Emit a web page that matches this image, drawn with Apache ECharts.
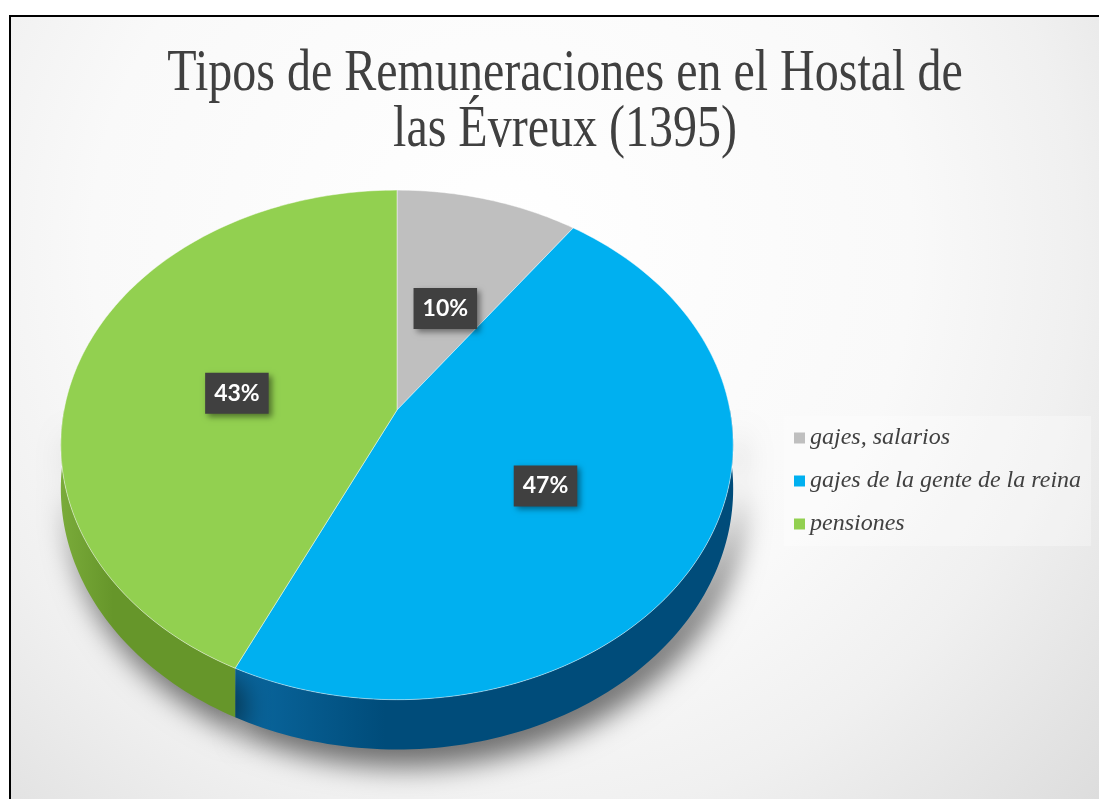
<!DOCTYPE html>
<html>
<head>
<meta charset="utf-8">
<title>Tipos de Remuneraciones</title>
<script src="https://cdn.jsdelivr.net/npm/echarts@6/dist/echarts.min.js"></script>
<style>
html, body { margin: 0; padding: 0; background: #fff; overflow: hidden; }
#main { width: 1099px; height: 799px; }
</style>
</head>
<body>
<div id="main"></div>
<script>
/* datos */
var titulo = ['Tipos de Remuneraciones en el Hostal de', 'las Évreux (1395)'];
var categorias = ['gajes, salarios', 'gajes de la gente de la reina', 'pensiones'];
var valores = [10, 47, 43];
var colores = ['#bfbfbf', '#00b0f0', '#92d050'];
var coloresLado = [['#9a9a9a', '#7c7c7c'], ['#0a68a0', '#004c7a'], ['#7aab3a', '#66962a']];

var total = valores.reduce(function (a, b) { return a + b; }, 0);
var inicio = [];
var acum = 0;
valores.forEach(function (v) { inicio.push(acum); acum += v; });

/* geometria del pastel 3D (perspectiva simple) */
var CX = 397, CY = 410, RX = 333, RY = 250, K = 0.137, PROF = 43;

function punto(r, ang, dz) {
	var w = 1 + K * r * Math.cos(ang);
	return [CX + RX * r * Math.sin(ang) / w, CY + (-RY * r * Math.cos(ang) + (dz || 0)) / w];
}
function arco(a, b, dz) {
	var n = Math.max(2, Math.ceil((b - a) / 0.02));
	var pts = [];
	for (var i = 0; i <= n; i++) pts.push(punto(1, a + (b - a) * i / n, dz));
	return pts;
}

function renderSector(i) {
	return function (params, api) {
		var a = inicio[i] / total * Math.PI * 2;
		var b = (inicio[i] + valores[i]) / total * Math.PI * 2;
		var hijos = [];
		// lado visible (mitad delantera)
		var a2 = Math.max(a, Math.PI / 2), b2 = Math.min(b, Math.PI * 1.5);
		if (b2 > a2) {
			var sup = arco(a2, b2, 0);
			var inf = arco(a2, b2, PROF).reverse();
			hijos.push({
				type: 'polygon',
				z2: 1,
				shape: { points: sup.concat(inf) },
				style: {
					fill: new echarts.graphic.LinearGradient(0, 0, 1, 0, [
						{ offset: 0, color: coloresLado[i][0] },
						{ offset: 0.3, color: coloresLado[i][1] },
						{ offset: 1, color: coloresLado[i][1] }
					]),
					shadowBlur: 28,
					shadowColor: 'rgba(0,0,0,0.55)',
					shadowOffsetX: 8,
					shadowOffsetY: 18
				}
			});
		}
		// cara superior
		hijos.push({
			type: 'polygon',
			z2: 10,
			shape: { points: [punto(0, 0, 0)].concat(arco(a, b, 0)) },
			style: { fill: colores[i], stroke: 'rgba(255,255,255,0.45)', lineWidth: 1 }
		});
		// etiqueta
		var m = (a + b) / 2;
		var pl = punto(0.5, m, 0);
		hijos.push({
			type: 'text',
			z2: 20,
			x: pl[0],
			y: pl[1] + 10,
			style: {
				text: Math.round(valores[i] / total * 100) + '%',
				font: 'bold 23px Lato',
				fill: '#fff',
				align: 'center',
				verticalAlign: 'middle',
				backgroundColor: '#404040',
				padding: [10, 9, 8, 9],
				shadowBlur: 6,
				shadowColor: 'rgba(0,0,0,0.45)',
				shadowOffsetX: 3,
				shadowOffsetY: 3
			}
		});
		return { type: 'group', children: hijos };
	};
}

var series = categorias.map(function (c, i) {
	return {
		type: 'custom',
		name: c,
		coordinateSystem: 'none',
		itemStyle: { color: colores[i] },
		renderItem: renderSector(i),
		data: [valores[i]]
	};
});

var Chart = echarts.init(document.getElementById('main'));
var option = {
	backgroundColor: '#fff',
	animation: false,
	graphic: [{
		type: 'rect',
		z: -10,
		silent: true,
		shape: { x: 10, y: 16, width: 1200, height: 900 },
		style: {
			fill: new echarts.graphic.RadialGradient(0.41, 0.26, 0.91, [
				{ offset: 0, color: '#ffffff' },
				{ offset: 0.5, color: '#f9f9f9' },
				{ offset: 0.7, color: '#f0f0f0' },
				{ offset: 0.85, color: '#e6e6e6' },
				{ offset: 1, color: '#dcdcdc' }
			]),
			stroke: '#000',
			lineWidth: 2
		}
	}, {
		type: 'text',
		z: 5,
		x: 565,
		y: 46,
		scaleX: 0.8,
		silent: true,
		style: {
			text: titulo.join('\n'),
			font: '60px "Liberation Serif"',
			fill: '#404040',
			align: 'center',
			verticalAlign: 'top',
			lineHeight: 56
		}
	}],
	legend: {
		orient: 'vertical',
		left: 784,
		top: 416,
		icon: 'rect',
		itemWidth: 11,
		itemHeight: 11,
		itemGap: 19,
		padding: [10, 10, 10, 10],
		backgroundColor: 'rgba(255,255,255,0.3)',
		data: categorias,
		textStyle: {
			fontFamily: 'Liberation Serif',
			fontStyle: 'italic',
			fontSize: 24,
			lineHeight: 22,
			color: '#404040'
		}
	},
	series: series
};
Chart.setOption(option);
</script>
</body>
</html>
